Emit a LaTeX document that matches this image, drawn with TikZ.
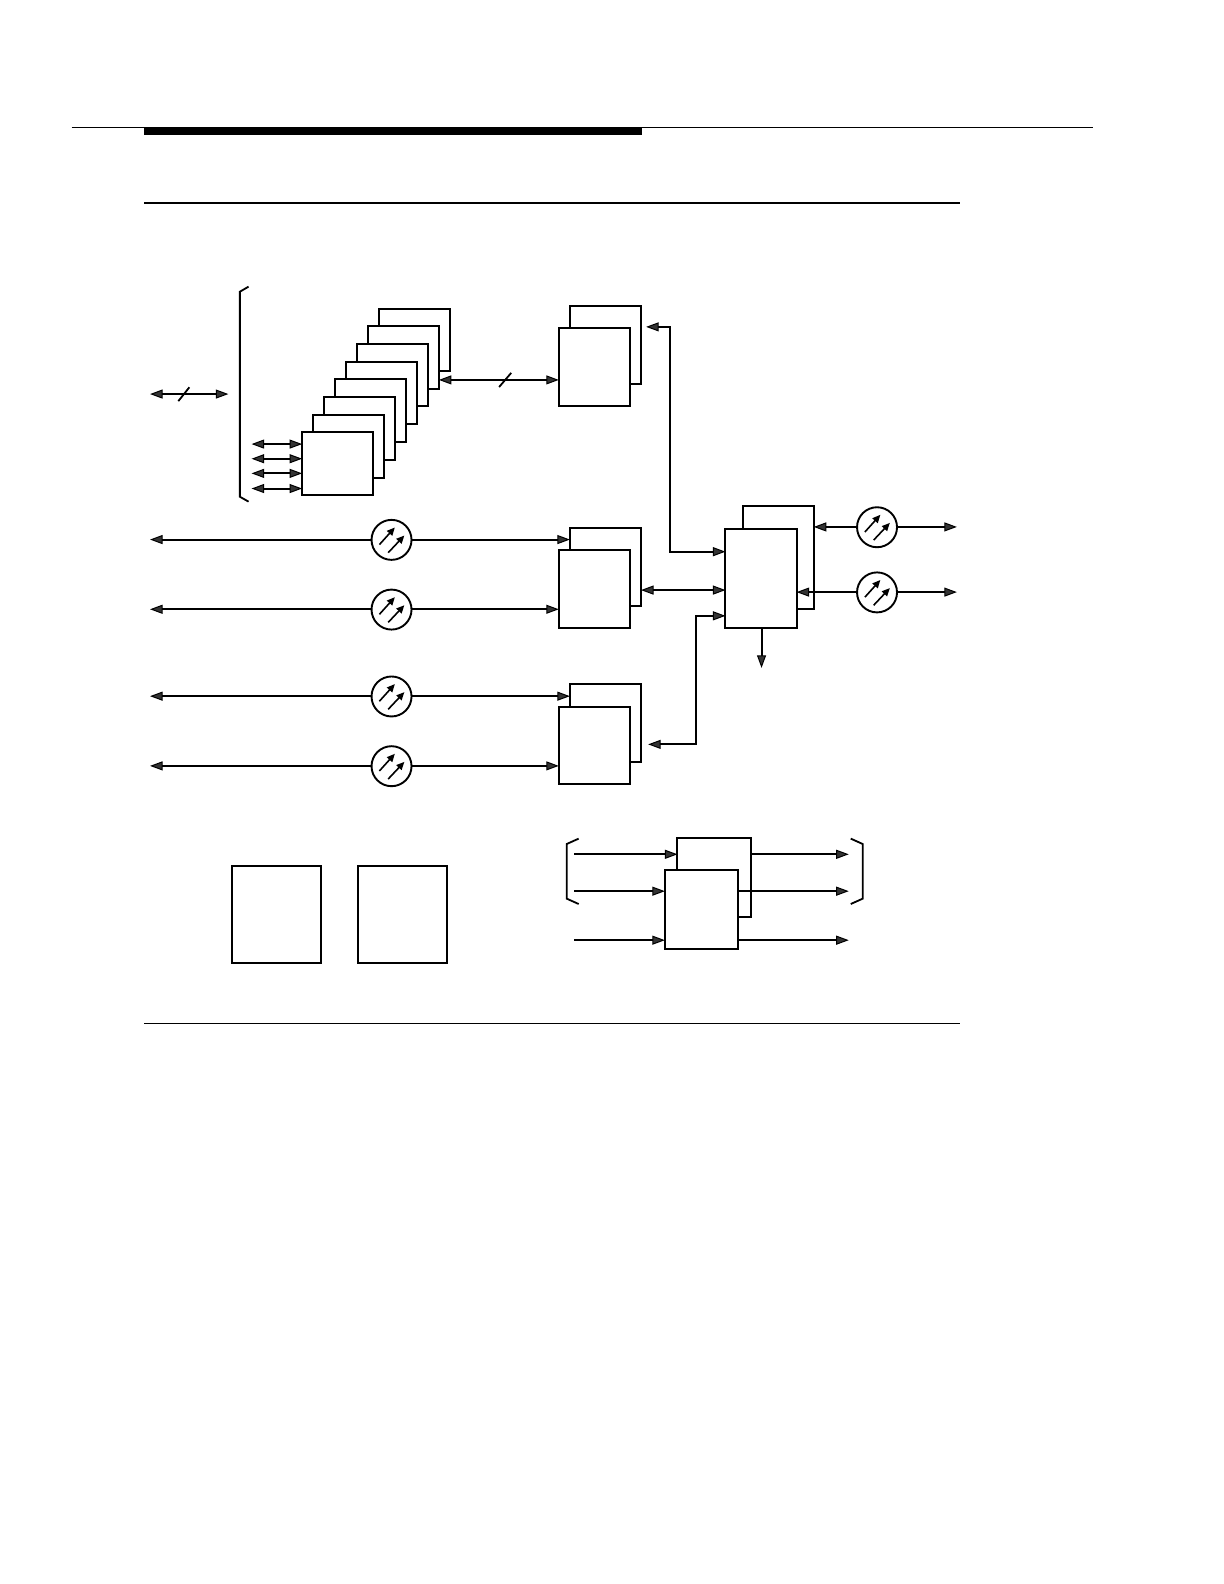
\documentclass[tikz,border=0pt]{standalone}
\usetikzlibrary{arrows.meta}
\tikzset{
  boxs/.style={draw=black,fill=white,line width=2pt,inner sep=0pt,outer sep=0pt,rectangle},
  att/.style={draw=black,fill=white,line width=1.9pt,circle,inner sep=0pt,outer sep=0pt,minimum size=40pt},
  conn/.style={draw=black,line width=2pt},
  tipa/.tip={Triangle[length=12.5pt,width=9pt,fill=black!80,line width=1pt]},
  one/.style={conn,-tipa},
  back/.style={conn,tipa-},
  both/.style={conn,tipa-tipa},
  brace/.style={draw=black,line width=1.8pt,line join=miter},
  slash/.style={draw=black,line width=1.8pt},
  needle/.style={draw=black,line width=1.6pt,-{Triangle[length=8pt,width=7pt,fill=black]}},
  rulethin/.style={draw=black,line width=1.1pt},
  rulemid/.style={draw=black,line width=1.9pt}
}
\newcommand{\bx}[5]{\node[boxs,minimum width={(#4-#2-0.6)*1.0104pt},minimum height={(#5-#3)*1.0104pt}] (#1) at ({(#2+#4-0.6)/2},{(#3+#5)/2}) {};}
\newcommand{\needles}[1]{
  \draw[needle] ([shift={(-12,4.7)}]#1.center) -- ([shift={(3.3,-12.3)}]#1.center);
  \draw[needle] ([shift={(-3.3,12.7)}]#1.center) -- ([shift={(12.7,-4.3)}]#1.center);}
\begin{document}
\begin{tikzpicture}[x=1.0104pt,y=-1.0104pt]
\useasboundingbox (0,0) rectangle (1211.4,1567.7);
% page rules
\coordinate (ra) at (71,126); \coordinate (rb) at (1081.5,126);
\draw[rulethin] (ra) -- (rb);
\fill[black] (143,126) rectangle (635.6,134);
\coordinate (rc) at (143,201); \coordinate (rd) at (950,201);
\draw[rulemid] (rc) -- (rd);
\coordinate (re) at (143,1013); \coordinate (rf) at (950,1013);
\draw[rulethin] (re) -- (rf);
% left bracket and bus
\draw[brace] (246,283.7) -- (237.4,288.7) -- (237.4,491.6) -- (246,496.5);
\coordinate (busl) at (148.5,390); \coordinate (busr) at (226,390);
\draw[both] (busl) -- (busr);
\draw[slash] (176.5,397) -- (187.4,383.3);
% stack of cards
\bx{s8}{375}{305.4}{446}{367}
\bx{s7}{364}{322.5}{435}{385}
\bx{s6}{353}{340}{424}{402}
\bx{s5}{342}{358}{413}{420}
\bx{s4}{331.5}{375}{402.5}{437}
\bx{s3}{320.5}{393}{391.5}{455}
\bx{s2}{310}{411}{381}{473}
\bx{s1}{299}{428}{370}{490}
% buffers
\bx{bufAb}{564}{303}{635}{380}
\bx{bufAf}{553}{325}{624}{402}
\bx{bufBb}{564}{522.5}{635}{600}
\bx{bufBf}{553}{544.3}{624}{622}
\bx{bufCb}{564}{677}{635}{754}
\bx{bufCf}{553}{699.3}{624}{776}
% central
\bx{cpub}{735}{500.5}{806}{603}
\bx{cpuf}{718}{523.4}{789}{622}
% bottom boxes
\bx{ml}{229.5}{857}{318.4}{953}
\bx{mr}{354}{857}{443.4}{953}
\bx{outb}{670.5}{829}{743.4}{908}
\bx{outf}{658}{861}{731.4}{939}
% attenuators
\node[att] (a1) at (387.5,534.3) {};
\node[att] (a2) at (387.5,603.3) {};
\node[att] (a3) at (387.5,689.3) {};
\node[att] (a4) at (387.5,758.3) {};
\node[att] (a5) at (868,521.8) {};
\node[att] (a6) at (868,586.3) {};
\needles{a1}\needles{a2}\needles{a3}\needles{a4}\needles{a5}\needles{a6}
% small card arrows
\coordinate (c1) at (249,439.5); \coordinate (c2) at (249,454);
\coordinate (c3) at (249,468.5); \coordinate (c4) at (249,483.5);
\draw[both] (c1) -- (c1 -| s1.west);
\draw[both] (c2) -- (c2 -| s1.west);
\draw[both] (c3) -- (c3 -| s1.west);
\draw[both] (c4) -- (c4 -| s1.west);
% stack to buffer
\coordinate (y1) at (0,376);
\draw[both] (s7.east |- y1) -- (bufAf.west |- y1);
\draw[slash] (494,383) -- (506,369);
% line arrows left
\coordinate (l1) at (148.5,534); \coordinate (l2) at (148.5,603);
\coordinate (l3) at (148.5,689); \coordinate (l4) at (148.5,758);
\draw[back] (l1) -- (l1 -| a1.west);
\draw[back] (l2) -- (l2 -| a2.west);
\draw[back] (l3) -- (l3 -| a3.west);
\draw[back] (l4) -- (l4 -| a4.west);
\draw[one] (l1 -| a1.east) -- (l1 -| bufBb.west);
\draw[one] (l2 -| a2.east) -- (l2 -| bufBf.west);
\draw[one] (l3 -| a3.east) -- (l3 -| bufCb.west);
\draw[one] (l4 -| a4.east) -- (l4 -| bufCf.west);
% buffers to central
\coordinate (t1) at (639.5,323.5); \coordinate (k1) at (663,323.5); \coordinate (k2) at (663,546);
\draw[conn,tipa-tipa] (t1) -- (k1) -- (k2) -- (k2 -| cpuf.west);
\coordinate (y2) at (0,584);
\draw[both] (bufBb.east |- y2) -- (cpuf.west |- y2);
\coordinate (t3) at (641.5,736.7); \coordinate (k3) at (689,736.7); \coordinate (k4) at (689,609.5);
\draw[conn,tipa-tipa] (t3) -- (k3) -- (k4) -- (k4 -| cpuf.west);
\coordinate (d1) at (753.7,661);
\draw[one] (d1 |- cpuf.south) -- (d1);
% right side
\coordinate (r5) at (947,521.5); \coordinate (r6) at (947,586);
\draw[one] (r5 -| a5.east) -- (r5);
\draw[one] (r6 -| a6.east) -- (r6);
\draw[back] (r5 -| cpub.east) -- (r5 -| a5.west);
\draw[back] (r6 -| cpuf.east) -- (r6 -| a6.west);
% bottom group
\draw[brace] (572.7,830) -- (560.9,835.3) -- (560.9,889.4) -- (572.7,894.7);
\draw[brace] (842,830) -- (853.8,835.3) -- (853.8,889.4) -- (842,894.7);
\coordinate (i1) at (568.5,845.5); \coordinate (i2) at (568.5,882); \coordinate (i3) at (568.5,930.5);
\coordinate (o1) at (840,845.5); \coordinate (o2) at (840,882); \coordinate (o3) at (840,930.5);
\draw[one] (i1) -- (i1 -| outb.west);
\draw[one] (i2) -- (i2 -| outf.west);
\draw[one] (i3) -- (i3 -| outf.west);
\draw[one] (o1 -| outb.east) -- (o1);
\draw[one] (o2 -| outf.east) -- (o2);
\draw[one] (o3 -| outf.east) -- (o3);
\end{tikzpicture}
\end{document}
